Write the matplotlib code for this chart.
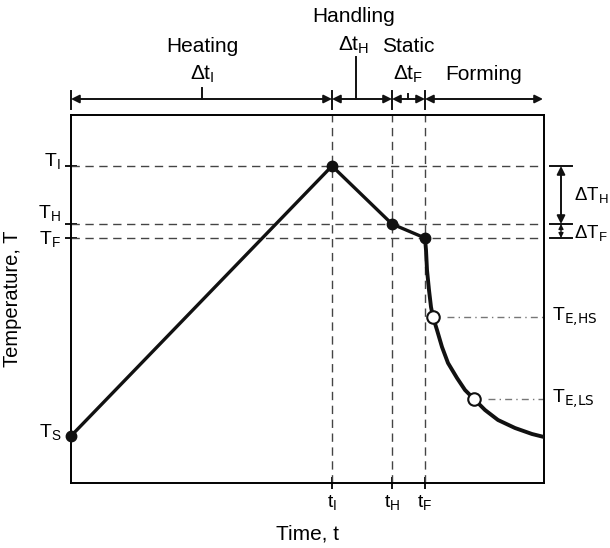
import numpy as np
import matplotlib
matplotlib.use("Agg")
from matplotlib import pyplot as plt

plt.rcParams['font.family'] = ['Liberation Sans', 'DejaVu Sans']
plt.rcParams['mathtext.default'] = 'regular'

# key instants and temperatures (arbitrary units)
t_key = [0, 261, 321, 354]          # t_S, t_I, t_H, t_F
T_key = [47, 317, 259, 245]         # T_S, T_I, T_H, T_F
t_labels = ['$t_I$', '$t_H$', '$t_F$']
T_labels = ['$T_S$', '$T_I$', '$T_H$', '$T_F$']
T_label_base = [46, 317, 265, 239]  # baseline of each label

# cooling curve during forming
t_form = [354, 355, 356, 358, 360, 362, 366, 371, 377, 386, 394, 403, 414, 427, 444, 461, 473]
T_form = [245, 233, 213, 193, 176, 166, 153, 136, 120, 105, 93, 84, 73, 63, 55, 49, 46]

# end-of-forming temperatures (high / low speed)
t_end = [362, 403]
T_end = [166, 84]
end_labels = [r'$T_{\text{E,HS}}$', r'$T_{\text{E,LS}}$']

# phases along the top
phase_bounds = [0, 261, 321, 354, 472]
phase_names = ['Heating', 'Handling', 'Static', 'Forming']
phase_dt = [r'$\Delta t_I$', r'$\Delta t_H$', r'$\Delta t_F$', '']

fig = plt.figure(figsize=(6.1, 5.48), dpi=100)
ax = fig.add_axes([71/610, 65/548, 473/610, 368/548])
ax.set_xlim(0, 473)
ax.set_ylim(0, 368)
for s in ax.spines.values():
    s.set_linewidth(1.4)

dash = dict(color='#444444', lw=1.0, dashes=(6, 4))
for t in t_key[1:]:
    ax.plot([t, t], [0, 368], **dash)
for T in T_key[1:]:
    ax.plot([0, 473], [T, T], **dash)

# dash-dot guides for end temperatures
for t, T in zip(t_end, T_end):
    ax.plot([t + 14, 473], [T, T], color='#777777', lw=1.0, dashes=(5, 3, 1, 3))

ax.plot(t_key, T_key, color='#111111', lw=2.4, zorder=3)
ax.plot(t_form, T_form, color='#111111', lw=2.8, zorder=3,
        solid_joinstyle='round', solid_capstyle='round')
ax.plot(t_key, T_key, 'o', color='#111111', ms=7.5, zorder=4, clip_on=False)
ax.plot(t_end, T_end, 'o', mfc='white', mec='#111111', mew=1.5, ms=9, zorder=4)

ax.set_xticks(t_key[1:])
ax.set_xticklabels(t_labels, fontsize=14)
ax.set_yticks(T_key[1:])
ax.set_yticklabels([])
ax.tick_params(direction='inout', length=9, width=1.3, pad=3)
for T, lab in zip(T_label_base, T_labels):
    ax.text(-10, T, lab, fontsize=14, ha='right', va='baseline', clip_on=False)
ax.set_xlabel('Time, t', fontsize=15, labelpad=9)
ax.set_ylabel('Temperature, T', fontsize=14.5, labelpad=28)

for t, T, lab in zip(t_end, T_end, end_labels):
    ax.text(481, T, lab, fontsize=14, va='center', ha='left')

# phase arrows above the plot
ya = 384
kw = dict(clip_on=False, color='#111111', lw=1.4)
for i in range(4):
    a, b = phase_bounds[i], phase_bounds[i + 1]
    ax.annotate('', xy=(b, ya), xytext=(a, ya), annotation_clip=False,
                arrowprops=dict(arrowstyle='<|-|>', color='#111111', lw=1.4,
                                shrinkA=0, shrinkB=0, mutation_scale=12))
for t in phase_bounds[:4]:
    ax.plot([t, t], [374, 392], **kw)

mid_ticks = [(131, 395), (285, 426), (337, 389)]
for x, top in mid_ticks:
    ax.plot([x, x], [ya, top], **kw)

fs = 15
ax.text(131, 437, phase_names[0], fontsize=fs, ha='center', va='center')
ax.text(131, 409, phase_dt[0], fontsize=fs, ha='center', va='center')
ax.text(283, 467, phase_names[1], fontsize=fs, ha='center', va='center')
ax.text(283, 438, phase_dt[1], fontsize=fs, ha='center', va='center')
ax.text(337, 437, phase_names[2], fontsize=fs, ha='center', va='center')
ax.text(337, 409, phase_dt[2], fontsize=fs, ha='center', va='center')
ax.text(413, 409, phase_names[3], fontsize=fs, ha='center', va='center')

# temperature drop markers on the right
for T in T_key[1:]:
    ax.plot([479, 501], [T, T], **kw)
ax.annotate('', xy=(490, T_key[2]), xytext=(490, T_key[1]), annotation_clip=False,
            arrowprops=dict(arrowstyle='<|-|>', color='#111111', lw=1.4,
                            shrinkA=0, shrinkB=0, mutation_scale=12))
ax.annotate('', xy=(490, T_key[3]), xytext=(490, T_key[2]), annotation_clip=False,
            arrowprops=dict(arrowstyle='<|-|>', color='#111111', lw=1.0,
                            shrinkA=0, shrinkB=0, mutation_scale=7))
ax.text(503, 288, r'$\Delta T_H$', fontsize=13.5, ha='left', va='center')
ax.text(503, 250, r'$\Delta T_F$', fontsize=13.5, ha='left', va='center')

fig.savefig('out.png', dpi=100)
